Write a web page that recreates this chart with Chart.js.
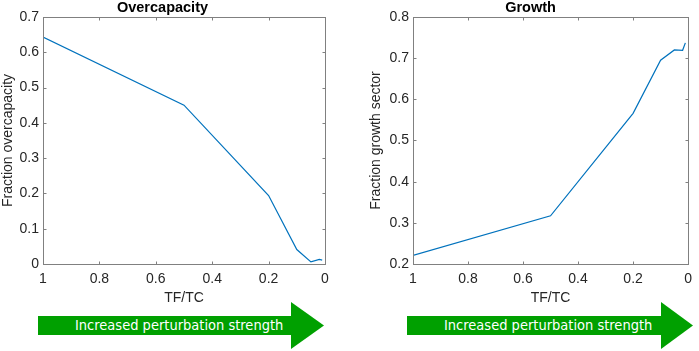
<!DOCTYPE html>
<html>
<head>
<meta charset="utf-8">
<script src="https://cdn.jsdelivr.net/npm/chart.js@4.4.1/dist/chart.umd.min.js"></script>
<style>
  html, body { margin: 0; padding: 0; background: #fff; }
  body { width: 699px; height: 351px; position: relative; overflow: hidden; font-family: Arial, "Liberation Sans", sans-serif; }
  .plot { position: absolute; top: 0; }
  .arrow { position: absolute; top: 302px; height: 47px; }
  .arrow .body { position: absolute; left: 0; top: 14px; height: 19px; background: #00a000; }
  .arrow .head { position: absolute; top: 0; height: 47px; background: #00a000; clip-path: polygon(0 0, 100% 50%, 0 100%); }
  .arrow .label { position: absolute; top: 14px; height: 19px; line-height: 19px; color: #fff; font-size: 14.5px;
                  font-family: "DejaVu Sans Condensed", "DejaVu Sans", sans-serif; font-stretch: condensed; white-space: nowrap; }
</style>
</head>
<body>
<div class="plot" style="left:0px;width:340px;height:307px"><canvas id="overChart"></canvas></div>
<div class="plot" style="left:368px;width:331px;height:307px"><canvas id="growthChart"></canvas></div>

<div class="arrow" style="left:38px;width:286px">
  <div class="body" style="width:254px"></div>
  <div class="head" style="left:253px;width:33px"></div>
  <div class="label" style="left:37px">Increased perturbation strength</div>
</div>
<div class="arrow" style="left:407px;width:286px">
  <div class="body" style="width:255px"></div>
  <div class="head" style="left:254px;width:32px"></div>
  <div class="label" style="left:37px">Increased perturbation strength</div>
</div>

<script>
// values
const tfTc = [1, 0.5, 0.2, 0.1, 0.05, 0.02, 0.01];
const overcapacity = [0.643, 0.45, 0.194, 0.041, 0.006, 0.013, 0.011];
const growthSector = [0.221, 0.317, 0.566, 0.695, 0.72, 0.719, 0.737];

const xTicks = [1, 0.8, 0.6, 0.4, 0.2, 0];
const overTicks = [0, 0.1, 0.2, 0.3, 0.4, 0.5, 0.6, 0.7];
const growthTicks = [0.2, 0.3, 0.4, 0.5, 0.6, 0.7, 0.8];

const INK = '#262626';
const LINE = '#0072bd';
const FONT = 'Arial, "Liberation Sans", sans-serif';

// MATLAB style box with inward ticks
const boxPlugin = {
    id: 'matlabBox',
    afterDatasetsDraw(chart) {
        const { ctx, chartArea: a, scales } = chart;
        const l = Math.round(a.left) + 0.5, r = Math.round(a.right) + 0.5;
        const t = Math.round(a.top) + 0.5, b = Math.round(a.bottom) + 0.5;
        ctx.save();
        ctx.strokeStyle = '#808080';
        ctx.lineWidth = 1;
        ctx.strokeRect(l, t, r - l, b - t);
        ctx.beginPath();
        scales.x.ticks.forEach(tk => {
            const px = Math.round(scales.x.getPixelForValue(tk.value)) + 0.5;
            ctx.moveTo(px, b); ctx.lineTo(px, b - 3);
            ctx.moveTo(px, t); ctx.lineTo(px, t + 3);
        });
        scales.y.ticks.forEach(tk => {
            const py = Math.round(scales.y.getPixelForValue(tk.value)) + 0.5;
            ctx.moveTo(l, py); ctx.lineTo(l + 3, py);
            ctx.moveTo(r, py); ctx.lineTo(r - 3, py);
        });
        ctx.stroke();
        ctx.restore();
    }
};

function makeChart(id, title, yTitle, values, yTicks, yWidth, padRight)
{
    const pts = tfTc.map((x, i) => ({ x: x, y: values[i] }));
    return new Chart(document.getElementById(id), {
        type: 'line',
        data: {
            datasets: [{
                data: pts,
                borderColor: LINE,
                borderWidth: 1.2,
                pointRadius: 0,
                tension: 0,
                fill: false
            }]
        },
        options: {
            responsive: true,
            maintainAspectRatio: false,
            animation: false,
            layout: { padding: { top: 0, right: padRight, bottom: 0, left: 0 } },
            plugins: {
                legend: { display: false },
                tooltip: { enabled: false },
                title: {
                    display: true,
                    text: title,
                    color: '#000',
                    font: { family: FONT, size: 14.5, weight: 'bold', lineHeight: 1.17 },
                    padding: { top: 0, bottom: 0 }
                }
            },
            scales: {
                x: {
                    type: 'linear',
                    reverse: true,
                    min: 0,
                    max: 1,
                    afterBuildTicks: s => { s.ticks = xTicks.map(v => ({ value: v })); },
                    afterFit: s => { s.height = 43; },
                    grid: { display: false, drawTicks: false },
                    border: { display: false },
                    ticks: {
                        color: INK,
                        padding: 7,
                        maxRotation: 0,
                        font: { family: FONT, size: 14 },
                        callback: v => String(v)
                    },
                    title: {
                        display: true,
                        text: 'TF/TC',
                        color: INK,
                        padding: { top: 1, bottom: 0 },
                        font: { family: FONT, size: 14 }
                    }
                },
                y: {
                    type: 'linear',
                    min: yTicks[0],
                    max: yTicks[yTicks.length - 1],
                    afterBuildTicks: s => { s.ticks = yTicks.map(v => ({ value: v })); },
                    afterFit: s => { s.width = yWidth; },
                    grid: { display: false, drawTicks: false },
                    border: { display: false },
                    ticks: {
                        color: INK,
                        padding: 4,
                        font: { family: FONT, size: 14 },
                        callback: v => String(v)
                    },
                    title: {
                        display: true,
                        text: yTitle,
                        color: INK,
                        padding: { top: 0, bottom: 0 },
                        font: { family: FONT, size: 14 }
                    }
                }
            }
        },
        plugins: [boxPlugin]
    });
}

makeChart('overChart', 'Overcapacity', 'Fraction overcapacity', overcapacity, overTicks, 43, 15);
makeChart('growthChart', 'Growth', 'Fraction growth sector', growthSector, growthTicks, 45, 6);
</script>
</body>
</html>
